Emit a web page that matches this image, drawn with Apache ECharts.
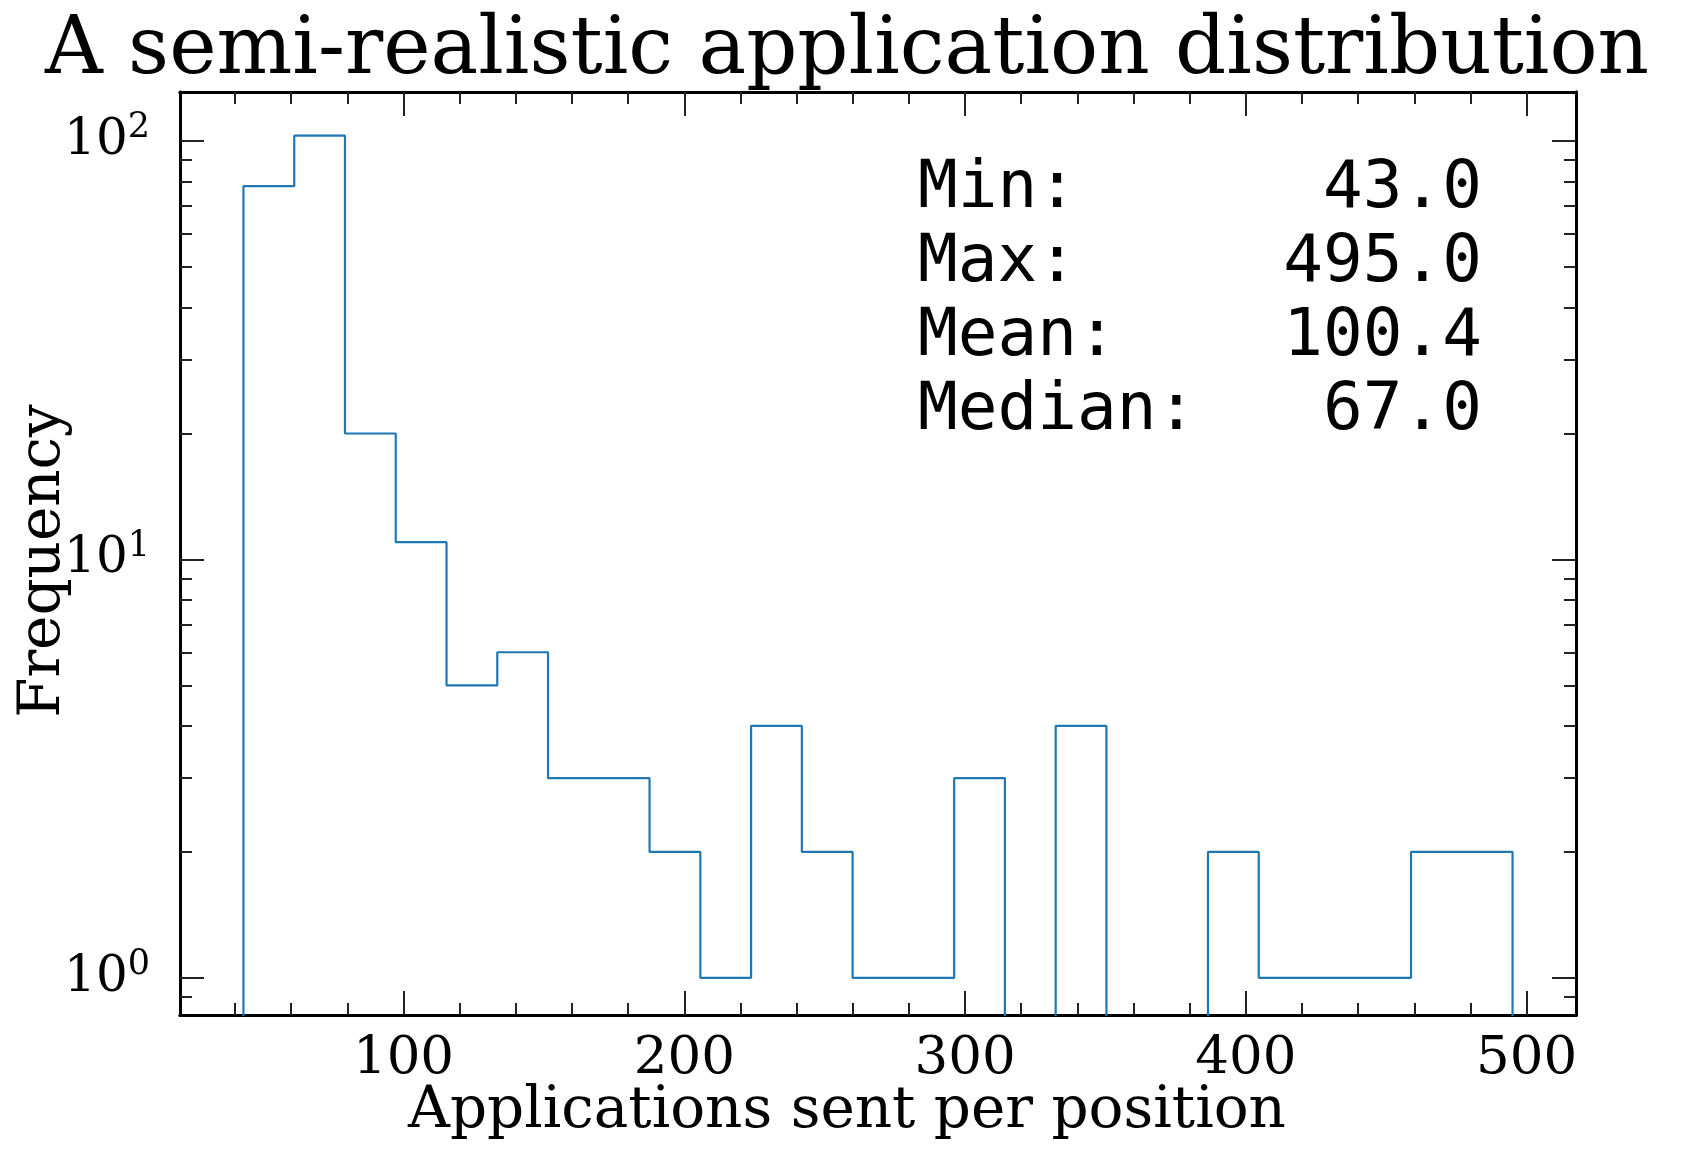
<!DOCTYPE html>
<html><head><meta charset="utf-8">
<script src="https://cdn.jsdelivr.net/npm/echarts@6/dist/echarts.min.js"></script>
<style>html,body{margin:0;padding:0;background:#fff}#c{width:1694px;height:1156px}</style>
</head><body><div id="c"></div>
<script>
const binEdges = [43.0,61.08,79.16,97.24,115.32,133.4,151.48,169.56,187.64,205.72,223.8,241.88,259.96,278.04,296.12,314.2,332.28,350.36,368.44,386.52,404.6,422.68,440.76,458.84,476.92,495.0];
const counts = [78,103,20,11,5,6,3,3,2,1,4,2,1,1,3,0,4,0,0,2,1,1,1,2,2];
const xMajor = [100,200,300,400,500];
const xMinor = [40,60,80,120,140,160,180,220,240,260,280,320,340,360,380,420,440,460,480];
const yMajor = [1,10,100];
const yMinor = [0.9,2,3,4,5,6,7,8,9,20,30,40,50,60,70,80,90];
const statLabels = ['Min:','Max:','Mean:','Median:'];
const statValues = ['43.0','495.0','100.4','67.0'];
const X0 = 20.4, X1 = 517.6, Y0 = 0.815, Y1 = 131;

const chart = echarts.init(document.getElementById('c'));
const grid = {left:180, right:118, top:92, bottom:141};
function xAx(pos, ticks, len, labels){
  return {type:'value', position:pos, min:X0, max:X1, gridIndex:0,
    axisLine:{show:true, lineStyle:{color:'#000', width:3}},
    splitLine:{show:false},
    axisTick:{show:true, inside:true, length:len, customValues:ticks, lineStyle:{color:'#222', width:2}},
    axisLabel:{show:labels, customValues:ticks, margin:18, fontFamily:'DejaVu Serif', fontSize:53, color:'#000'}};
}
function yAx(pos, ticks, len, labels){
  return {type:'log', logBase:10, position:pos, min:Y0, max:Y1, gridIndex:0,
    axisLine:{show:true, lineStyle:{color:'#000', width:3}},
    splitLine:{show:false},
    axisTick:{show:true, inside:true, length:len, customValues:ticks, lineStyle:{color:'#222', width:2}},
    axisLabel:{show:labels, customValues:ticks, margin:30, color:'#000',
      formatter:v=>'{b|10}{s|'+Math.round(Math.log10(v))+'}',
      rich:{b:{fontFamily:'DejaVu Serif', fontSize:50, color:'#000'}, s:{fontFamily:'DejaVu Serif', fontSize:35, color:'#000', verticalAlign:'top', padding:[0,0,26,0]}}}};
}
const pts = [[binEdges[0], 0.5]];
counts.forEach((c,i)=>{const v=c>0?c:0.5; pts.push([binEdges[i],v]); pts.push([binEdges[i+1],v]);});
pts.push([binEdges[binEdges.length-1], 0.5]);

const graphics = [];
const ys = [195,269,343,417];
statLabels.forEach((l,i)=>{
  graphics.push({type:'text', left:918, top:ys[i]-38, style:{text:l, font:'66px "DejaVu Sans Mono"', fill:'#000'}});
  graphics.push({type:'text', right:1694-1482, top:ys[i]-38, style:{text:statValues[i], font:'66px "DejaVu Sans Mono"', fill:'#000', align:'right'}});
});
graphics.push({type:'text', left:'center', top:12, style:{text:'A semi-realistic application distribution', font:'80px "DejaVu Serif"', fill:'#000'}});
graphics.push({type:'text', left:'center', top:1083, style:{text:'Applications sent per position', font:'58px "DejaVu Serif"', fill:'#000'}});
graphics.push({type:'text', x:44, y:561, rotation:Math.PI/2, style:{text:'Frequency', font:'58px "DejaVu Serif"', fill:'#000', align:'center', verticalAlign:'middle'}});

chart.setOption({
  animation:false,
  grid:grid,
  xAxis:[xAx('bottom',xMajor,24,true), xAx('bottom',xMinor,12,false), xAx('top',xMajor,24,false), xAx('top',xMinor,12,false)],
  yAxis:[yAx('left',yMajor,24,true), yAx('left',yMinor,12,false), yAx('right',yMajor,24,false), yAx('right',yMinor,12,false)],
  graphic:graphics,
  series:[{type:'line', xAxisIndex:0, yAxisIndex:0, data:pts, showSymbol:false, symbol:'none',
    lineStyle:{color:'#1f77b4', width:2.2}, clip:true}]
});
</script></body></html>
